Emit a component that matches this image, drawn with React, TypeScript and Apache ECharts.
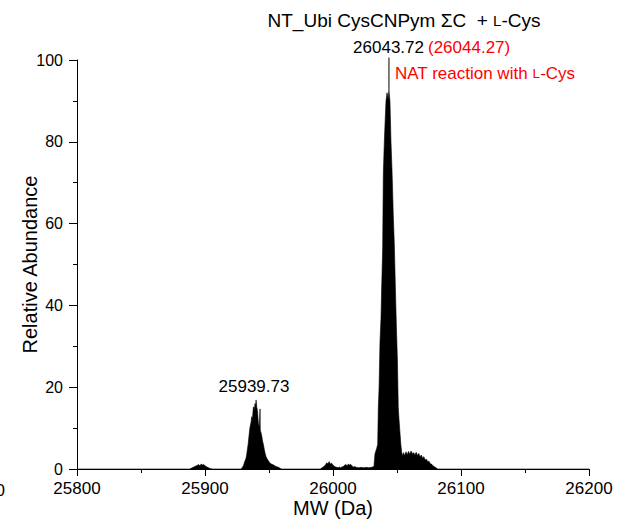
import React, { useEffect, useRef } from "react";
import * as echarts from "echarts";

// Deconvoluted mass spectrum (MW in Da, relative abundance in %)
const mw: number[] = [
  25800, 25888, 25890, 25892, 25894, 25895, 25896, 25897, 25898, 25899, 25900, 25901, 25902, 25904, 25906,
  25928, 25929, 25930, 25931, 25932, 25932.5, 25933, 25933.8, 25934.5, 25935.2, 25936, 25936.5, 25937, 25937.8,
  25938.5, 25939.1, 25939.5, 25939.9, 25940.5, 25941, 25941.5, 25941.8, 25942.5, 25943, 25943.2, 25944, 25944.4,
  25945, 25945.7, 25946.3, 25947, 25947.6, 25948.3, 25949.5, 25950.9, 25952, 25953.5, 25955, 25957.4, 25959, 25960,
  25990, 25992, 25994, 25995, 25996, 25997, 25998, 25999, 26000, 26001, 26002, 26003, 26004, 26005, 26006, 26007,
  26008, 26009, 26010, 26011, 26012, 26013, 26014, 26015, 26016, 26017, 26018, 26020, 26022, 26024, 26026, 26028,
  26030, 26032, 26032.8, 26034.1, 26034.9, 26035.4, 26036, 26036.7, 26037.5, 26038, 26038.8, 26039.3, 26040.1,
  26040.6, 26041.4, 26042.2, 26043, 26043.72, 26044.5, 26045.3, 26046, 26046.4, 26047.1, 26047.9, 26049, 26049.6,
  26050.3, 26051, 26051.6, 26052.3, 26053, 26053.7, 26054.5, 26055, 26056, 26057, 26058, 26059, 26060, 26061,
  26062, 26063, 26064, 26065, 26066, 26067, 26068, 26069, 26070, 26071, 26072, 26073, 26074, 26075, 26076, 26077,
  26078, 26079, 26080, 26081, 26082, 26200,
];

const abundance: number[] = [
  0, 0, 0.3, 0.6, 0.9, 1.1, 0.8, 1.2, 1.0, 1.1, 0.8, 0.6, 0.4, 0.1, 0,
  0, 0.3, 0.8, 1.8, 2.6, 3.4, 4.5, 6.3, 8.5, 10.3, 11.5, 12.8, 12.0, 15.2,
  14.5, 16.0, 15.2, 16.9, 15.0, 14.3, 12.0, 11.0, 10.2, 14.7, 9.5, 8.6, 8.0,
  6.8, 5.9, 4.8, 3.8, 3.1, 2.6, 2.0, 1.4, 1.2, 1.0, 0.7, 0.4, 0.1, 0,
  0, 0.4, 0.9, 1.5, 1.3, 1.8, 1.2, 1.4, 0.9, 0.7, 0.5, 0.4, 0.3, 0.5, 0.3, 0.5,
  0.6, 0.9, 1.1, 0.8, 1.2, 1.0, 1.1, 0.7, 0.5, 0.6, 0.4, 0.3, 0.4, 0.3, 0.4, 0.3,
  0.4, 0.6, 3.7, 5.0, 6.0, 15, 20, 31, 37, 44, 54, 72, 80,
  84, 90, 92, 90.5, 92.5, 90, 80, 74, 70, 62, 55, 41, 34,
  27, 15, 12, 9, 6, 4, 3.2, 4.0, 3.3, 4.2, 3.5, 4.3, 3.6, 4.4,
  3.7, 4.0, 3.4, 4.1, 3.3, 3.8, 3.0, 3.4, 2.7, 3.0, 2.2, 2.4, 1.8, 1.9, 1.3, 1.2,
  0.8, 0.6, 0.4, 0.2, 0, 0,
];

const xTicks = { min: 25800, max: 26200, step: 100 };
const yTicks = { min: 0, max: 100, step: 20 };

const mainPeak = { mw: 26043.72, top: 92.5, labelTop: 100.6 };
const labelMain = "26043.72";
const labelTheory = "(26044.27)";
const labelMinor = "25939.73";
const labelReaction = "NAT reaction with {sc|L}-Cys";
const titleText = "NT_Ubi CysCNPym ΣC  + {sc|L}-Cys";

const FONT = '"Liberation Sans", Arial, Helvetica, sans-serif';

export default function App() {
  const ref = useRef<HTMLDivElement>(null);
  useEffect(() => {
    if (!ref.current) return;
    const chart = echarts.init(ref.current, null, { renderer: "svg" });
    const data = mw.map((m, i) => [m, abundance[i]]);
    const texts: any[] = [
      {
        type: "text",
        x: 404,
        y: 20,
        style: {
          text: titleText,
          fontFamily: FONT,
          fontSize: 19,
          fill: "#000",
          align: "center",
          verticalAlign: "middle",
          rich: { sc: { fontSize: 15, fontFamily: FONT, fill: "#000" } },
        },
      },
      {
        type: "text",
        x: 424,
        y: 47,
        style: { text: labelMain, fontFamily: FONT, fontSize: 17, fill: "#000", align: "right", verticalAlign: "middle" },
      },
      {
        type: "text",
        x: 428,
        y: 47,
        style: { text: labelTheory, fontFamily: FONT, fontSize: 17, fill: "#ff0000", align: "left", verticalAlign: "middle" },
      },
      {
        type: "text",
        x: 395,
        y: 73,
        style: {
          text: labelReaction,
          fontFamily: FONT,
          fontSize: 17,
          fill: "#ff0000",
          align: "left",
          verticalAlign: "middle",
          rich: { sc: { fontSize: 13.5, fontFamily: FONT, fill: "#ff0000" } },
        },
      },
      {
        type: "text",
        x: 254,
        y: 386,
        style: { text: labelMinor, fontFamily: FONT, fontSize: 17, fill: "#000", align: "center", verticalAlign: "middle" },
      },
      {
        type: "text",
        x: 5,
        y: 490,
        style: { text: "0", fontFamily: FONT, fontSize: 17, fill: "#000", align: "right", verticalAlign: "middle" },
      },
    ];
    chart.setOption({
      animation: false,
      backgroundColor: "#ffffff",
      grid: { left: 77, top: 60, width: 512, height: 409 },
      xAxis: {
        type: "value",
        min: xTicks.min,
        max: xTicks.max,
        interval: xTicks.step,
        name: "MW (Da)",
        nameLocation: "middle",
        nameGap: 29,
        nameMoveOverlap: false,
        nameTextStyle: { fontFamily: FONT, fontSize: 20, color: "#000" },
        axisLine: { show: true, onZero: false, lineStyle: { color: "#000", width: 1 } },
        axisTick: { show: true, length: 7, lineStyle: { color: "#000", width: 1 } },
        minorTick: { show: true, splitNumber: 2, length: 4, lineStyle: { color: "#000", width: 1 } },
        axisLabel: { fontFamily: FONT, fontSize: 17, color: "#000", margin: 11, formatter: (v: number) => String(v) },
        splitLine: { show: false },
      },
      yAxis: {
        type: "value",
        min: yTicks.min,
        max: yTicks.max,
        interval: yTicks.step,
        name: "Relative Abundance",
        nameLocation: "middle",
        nameGap: 37,
        nameMoveOverlap: false,
        nameRotate: 90,
        nameTextStyle: { fontFamily: FONT, fontSize: 20, color: "#000" },
        axisLine: { show: true, onZero: false, lineStyle: { color: "#000", width: 1 } },
        axisTick: { show: true, length: 8, lineStyle: { color: "#000", width: 1 } },
        minorTick: { show: true, splitNumber: 2, length: 4, lineStyle: { color: "#000", width: 1 } },
        axisLabel: { fontFamily: FONT, fontSize: 16, color: "#000", margin: 14 },
        splitLine: { show: false },
      },
      series: [
        {
          type: "line",
          data,
          showSymbol: false,
          symbol: "none",
          lineStyle: { color: "#000", width: 0.6 },
          areaStyle: { color: "#000", opacity: 1 },
        },
      ],
      graphic: texts,
    });
    const p0 = chart.convertToPixel({ gridIndex: 0 }, [mainPeak.mw, mainPeak.top]) as number[];
    const p1 = chart.convertToPixel({ gridIndex: 0 }, [mainPeak.mw, mainPeak.labelTop]) as number[];
    if (p0 && p1) {
      chart.setOption({
        graphic: [
          ...texts,
          {
            type: "line",
            shape: { x1: p0[0], y1: p0[1], x2: p1[0], y2: p1[1] },
            style: { stroke: "#000", lineWidth: 1 },
            z: 10,
          },
        ],
      });
    }
    return () => chart.dispose();
  }, []);
  return <div ref={ref} style={{ width: 625, height: 526, position: "absolute", left: 0, top: 0 }} />;
}
